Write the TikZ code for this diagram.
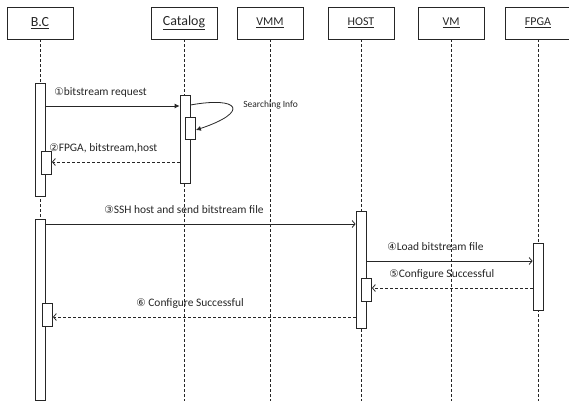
\documentclass[tikz,border=0pt]{standalone}
\usepackage{fontspec}
\setmainfont{Carlito}
\newfontfamily\circfont{DejaVu Sans}
\usetikzlibrary{arrows.meta}
\newcommand{\circnum}[1]{{\circfont\fontsize{10.5}{10.5}\selectfont #1}}
\tikzset{
  lifebox/.style={rectangle, draw, minimum width=66bp, minimum height=32bp, inner sep=0pt},
  lifeline/.style={dashed, dash pattern=on 3bp off 2bp},
  actbar/.style={rectangle, draw, fill=white, minimum width=10bp, inner sep=0pt},
  msg/.style={-{Latex[length=5bp,width=5bp]}},
  call/.style={-{Straight Barb[length=3bp,width=7bp]}},
  reply/.style={dashed, dash pattern=on 3bp off 2bp, -{Straight Barb[length=3bp,width=7bp]}},
  lbl/.style={inner sep=0pt, font=\fontsize{11.5}{11.5}\selectfont, anchor=base west}
}
\begin{document}
\begin{tikzpicture}[x=1bp, y=-1bp, line width=0.8bp, draw=black!85, text=black!85]
    \useasboundingbox (0, 0) rectangle (569, 401);

    \node[lifebox, font=\fontsize{14}{14}\selectfont] (bc) at (40, 23) {\underline{B.C}};
    \node[lifebox, font=\fontsize{14}{14}\selectfont] (cat) at (184, 23) {\underline{Catalog}};
    \node[lifebox, font=\fontsize{12}{12}\selectfont] (vmm) at (270, 23) {\underline{VMM}};
    \node[lifebox, font=\fontsize{12}{12}\selectfont] (host) at (361, 23) {\underline{HOST}};
    \node[lifebox, font=\fontsize{12}{12}\selectfont] (vm) at (451, 23) {\underline{VM}};
    \node[lifebox, font=\fontsize{12}{12}\selectfont] (fpga) at (538, 23) {\underline{FPGA}};

    \coordinate (bcend) at (40, 401);
    \coordinate (catend) at (184, 401);
    \coordinate (vmmend) at (270.5, 401);
    \coordinate (hostend) at (361, 401);
    \coordinate (vmend) at (451, 401);
    \coordinate (fpgaend) at (538, 401);

    \draw[lifeline] (bc) -- (bcend);
    \draw[lifeline] (cat) -- (catend);
    \draw[lifeline] (vmm.south -| vmmend) -- (vmmend);
    \draw[lifeline] (host) -- (hostend);
    \draw[lifeline] (vm) -- (vmend);
    \draw[lifeline] (fpga) -- (fpgaend);

    \node[actbar, minimum height=113bp] (bc1) at (40.5, 139.5) {};
    \node[actbar, minimum height=23bp] (bc2) at (46.5, 162.5) {};
    \node[actbar, minimum height=88bp] (cat1) at (185, 139) {};
    \node[actbar, minimum height=22bp] (cat2) at (190.5, 128) {};
    \node[actbar, minimum height=181bp] (bc3) at (40.5, 310) {};
    \node[actbar, minimum height=23bp] (bc4) at (47.5, 314.5) {};
    \node[actbar, minimum height=117bp] (host1) at (361, 269.5) {};
    \node[actbar, minimum height=23bp] (host2) at (366.5, 289.5) {};
    \node[actbar, minimum height=67bp] (fpga1) at (538, 276.5) {};

    \draw[msg] (bc1.east |- 0, 106) -- (cat1.west |- 0, 106);
    \node[lbl] (m1) at (54, 95) {\circnum{①}bitstream request};

    \draw[msg] (cat1.east |- 0, 105) .. controls (240, 96) and (250, 112) .. (cat2.east |- 0, 130);
    \node[lbl, font=\fontsize{9.5}{9.5}\selectfont] (m1b) at (243, 107) {Searching Info};

    \draw[reply] (cat1.west |- 0, 162) -- (bc2.east |- 0, 162);
    \node[lbl] (m2) at (49, 151) {\circnum{②}FPGA, bitstream,host};

    \draw[call] (bc3.east |- 0, 224) -- (host1.west |- 0, 224);
    \node[lbl] (m3) at (104, 213) {\circnum{③}SSH host and send bitstream file};

    \draw[call] (host1.east |- 0, 261) -- (fpga1.west |- 0, 261);
    \node[lbl] (m4) at (387, 250) {\circnum{④}Load bitstream file};

    \draw[reply] (fpga1.west |- 0, 288) -- (host2.east |- 0, 288);
    \node[lbl] (m5) at (389, 277) {\circnum{⑤}Configure Successful};

    \draw[reply] (host1.west |- 0, 317) -- (bc4.east |- 0, 317);
    \node[lbl] (m6) at (136, 306) {\circnum{⑥} Configure Successful};
  \end{tikzpicture}
\end{document}
